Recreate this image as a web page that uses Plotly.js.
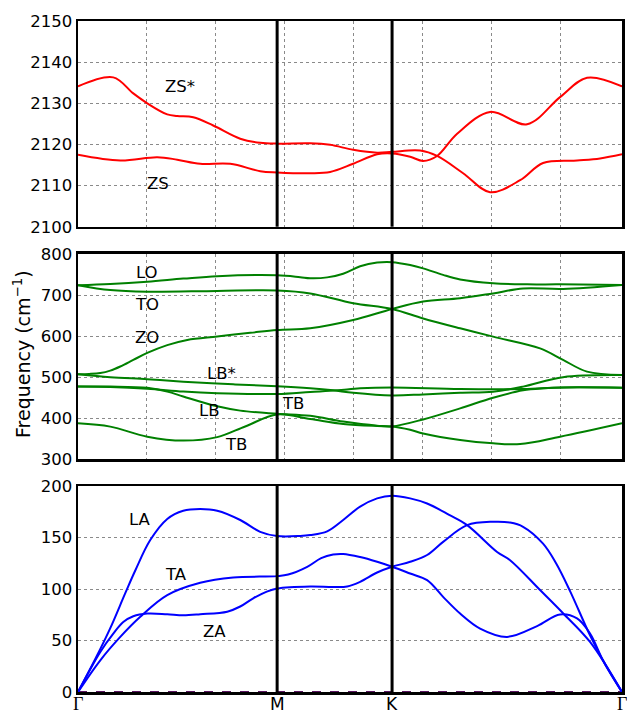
<!DOCTYPE html>
<html><head><meta charset="utf-8">
<script src="https://cdn.plot.ly/plotly-3.0.1.min.js"></script>
<style>html,body{margin:0;padding:0;background:#fff}</style>
</head><body><div id="chart" style="width:627px;height:711px"></div>
<script>
// High-symmetry points along the path (path length units) and their labels
const kPos = [0, 0.5774, 0.9107, 1.5774];
const kLabels = ['Γ', 'M', 'K', 'Γ'];

// Top panel (red): ZS*, ZS
const zsStarK = [0, 0.1023, 0.1603, 0.2008, 0.2588, 0.2878, 0.3342, 0.3921, 0.4704, 0.5283, 0.5774, 0.6733, 0.7312, 0.7979, 0.8674, 0.9107, 0.9920, 1.0413, 1.1167, 1.1949, 1.2819, 1.3485, 1.4470, 1.5137, 1.5774];
const zsStarW = [2134.1, 2136.3, 2132.4, 2130.0, 2127.3, 2126.9, 2126.6, 2124.6, 2121.4, 2120.4, 2120.2, 2120.3, 2119.9, 2118.7, 2118.0, 2118.2, 2118.5, 2117.2, 2113.0, 2108.4, 2111.3, 2115.5, 2116.1, 2116.6, 2117.6];
const zsK = [0, 0.1226, 0.2298, 0.2878, 0.3544, 0.4414, 0.5283, 0.5774, 0.6733, 0.7312, 0.7979, 0.8674, 0.9107, 0.9631, 1.0007, 1.0413, 1.0993, 1.1949, 1.3022, 1.3978, 1.4760, 1.5774];
const zsW = [2117.5, 2116.1, 2116.9, 2116.3, 2115.3, 2115.3, 2113.5, 2113.2, 2113.0, 2113.3, 2115.3, 2117.6, 2117.8, 2117.0, 2116.0, 2117.2, 2122.6, 2127.9, 2124.9, 2131.5, 2136.2, 2134.1];

// Middle panel (green)
const loK = [0, 0.0936, 0.2008, 0.3052, 0.4037, 0.5774, 0.6443, 0.6733, 0.7225, 0.7689, 0.8181, 0.8674, 0.9107, 0.9631, 1.0007, 1.0587, 1.1080, 1.2036, 1.3022, 1.3978, 1.5774];
const loW = [724, 727, 732.6, 740, 746, 748, 743.5, 741, 743, 752, 770, 779, 780, 773, 765, 749, 738, 728.6, 726, 726, 724.5];
const toK = [0, 0.0936, 0.2008, 0.4037, 0.5774, 0.6733, 0.7979, 0.9107, 1.0007, 1.1080, 1.2036, 1.3398, 1.4065, 1.4760, 1.5774];
const toW = [724, 712, 708, 710, 711, 704, 680, 666, 643, 619, 598.7, 570, 542, 513.5, 505];
const zoK = [0, 0.0325, 0.0646, 0.0936, 0.1226, 0.1603, 0.2008, 0.2588, 0.3168, 0.4037, 0.4994, 0.5774, 0.6733, 0.7979, 0.9107, 1.0007, 1.1080, 1.2036, 1.2906, 1.4065, 1.5774];
const zoW = [507, 507.8, 510, 516, 526, 542, 559, 578, 590.6, 599, 608, 615, 619, 639, 666, 684, 692, 704, 716, 715, 724.5];
const lbStarK = [0, 0.0936, 0.2008, 0.3052, 0.4501, 0.5774, 0.6733, 0.7399, 0.7979, 0.9107, 1.0007, 1.1080, 1.2036, 1.2906, 1.4065, 1.5774];
const lbStarW = [507, 500, 495, 489, 482.6, 478, 473, 468, 462, 455.5, 458, 462, 464.7, 477, 500, 505];
const b5K = [0, 0.0936, 0.2008, 0.3052, 0.4037, 0.5774, 0.6733, 0.7515, 0.8181, 0.9107, 1.1080, 1.2906, 1.4065, 1.5774];
const b5W = [477, 476, 472, 465, 461, 459, 464, 468, 473, 475, 471, 471, 475, 474.5];
const lbK = [0, 0.0936, 0.2008, 0.2588, 0.3052, 0.4037, 0.4704, 0.5774, 0.6733, 0.7689, 0.8674, 0.9107, 1.0007, 1.1080, 1.2036, 1.2906, 1.3485, 1.4065, 1.5774];
const lbW = [477, 477, 474, 465, 453, 429, 418.5, 411, 406, 392, 382, 380, 397, 424, 450, 468, 473, 475, 474.5];
const tbK = [0, 0.0936, 0.2008, 0.3052, 0.4037, 0.4848, 0.5774, 0.6733, 0.7689, 0.8674, 0.9107, 0.9631, 1.0007, 1.1080, 1.2036, 1.2819, 1.3978, 1.5774];
const tbW = [387.7, 379.6, 355, 345.5, 354, 380, 409, 398, 386, 381, 380, 372, 363, 347, 339, 337, 355, 387.7];

// Bottom panel (blue)
const laK = [0, 0.0501, 0.0936, 0.1371, 0.1661, 0.2095, 0.2588, 0.3052, 0.3544, 0.4037, 0.4704, 0.5283, 0.5774, 0.6443, 0.6733, 0.7225, 0.7689, 0.8181, 0.8674, 0.9107, 0.9631, 1.0123, 1.0761, 1.1283, 1.2152, 1.2529, 1.3398, 1.4065, 1.4847, 1.5774];
const laW = [0, 32, 62, 96, 118, 147.5, 168, 176, 177.6, 176, 167, 155.5, 151.4, 151.5, 152.4, 156, 167, 180, 188, 190.6, 188, 183, 172, 162, 136, 128, 99, 76.5, 48.6, 0];
const taK = [0, 0.0646, 0.1226, 0.1806, 0.2588, 0.3544, 0.4501, 0.5774, 0.6095, 0.6646, 0.7051, 0.7399, 0.7689, 0.8181, 0.8674, 0.9107, 0.9631, 1.0123, 1.0587, 1.1080, 1.1659, 1.2442, 1.3312, 1.3978, 1.4470, 1.4847, 1.5224, 1.5774];
const taW = [0, 30.8, 53.5, 73, 94, 106, 111.2, 112.5, 114, 121.5, 130, 133.5, 134, 131, 126.4, 121.6, 115, 108.6, 92.4, 76.2, 61.6, 53.5, 64, 75.3, 71.4, 56.8, 30.8, 0];
const zaK = [0, 0.0646, 0.1023, 0.1313, 0.1603, 0.2008, 0.2588, 0.3052, 0.3544, 0.4327, 0.4704, 0.5081, 0.5474, 0.5774, 0.6733, 0.7399, 0.7805, 0.8181, 0.8674, 0.9107, 0.9631, 1.0123, 1.0587, 1.1283, 1.2036, 1.2529, 1.2906, 1.3485, 1.3862, 1.4268, 1.4847, 1.5282, 1.5774];
const zaW = [0, 38.9, 56.7, 68, 73.6, 76.2, 75.5, 74.5, 75.5, 78, 83, 91, 97.5, 100.5, 102.5, 102, 102.5, 107, 116, 121.6, 126.4, 133, 145.8, 162, 165.3, 164.5, 160.4, 144, 125, 98, 55, 27, 0];

const FONT = 'DejaVu Sans, Verdana, sans-serif';
const RED = '#ff0000', GREEN = '#008000', BLUE = '#0000ff';

function band(k, w, color, xa, ya) {
  return {x: k, y: w, xaxis: xa, yaxis: ya, type: 'scatter', mode: 'lines',
    line: {color: color, width: 2, shape: 'spline', smoothing: 1}, hoverinfo: 'skip', showlegend: false};
}

const traces = [
  {x: [kPos[0], kPos[3]], y: [0, 0], xaxis: 'x', yaxis: 'y', type: 'scatter', mode: 'lines',
   line: {color: '#5a1560', width: 2, dash: 'dash'}, hoverinfo: 'skip', showlegend: false},
  band(laK, laW, BLUE, 'x', 'y'),
  band(taK, taW, BLUE, 'x', 'y'),
  band(zaK, zaW, BLUE, 'x', 'y'),
  band(loK, loW, GREEN, 'x2', 'y2'),
  band(toK, toW, GREEN, 'x2', 'y2'),
  band(zoK, zoW, GREEN, 'x2', 'y2'),
  band(lbStarK, lbStarW, GREEN, 'x2', 'y2'),
  band(b5K, b5W, GREEN, 'x2', 'y2'),
  band(lbK, lbW, GREEN, 'x2', 'y2'),
  band(tbK, tbW, GREEN, 'x2', 'y2'),
  band(zsStarK, zsStarW, RED, 'x3', 'y3'),
  band(zsK, zsW, RED, 'x3', 'y3')
];

const tickFont = {family: FONT, size: 16.5, color: '#000'};
const frame = {showline: true, mirror: true, linecolor: '#000', linewidth: 2.5, zeroline: false};
const grid = {showgrid: true, gridcolor: '#8a8a8a', griddash: 'dot', gridwidth: 1};
const xRange = [kPos[0], kPos[3]];

const layout = {
  width: 627, height: 711,
  margin: {l: 78, r: 5, t: 21, b: 19},
  paper_bgcolor: '#fff', plot_bgcolor: '#fff',
  showlegend: false,
  xaxis: Object.assign({}, frame, {anchor: 'y', range: xRange, showgrid: false, showticklabels: false, ticks: ''}),
  xaxis2: Object.assign({}, frame, grid, {anchor: 'y2', matches: 'x', range: xRange, dtick: 0.2, tick0: 0, showticklabels: false, ticks: ''}),
  xaxis3: Object.assign({}, frame, grid, {anchor: 'y3', matches: 'x', range: xRange, dtick: 0.2, tick0: 0, showticklabels: false, ticks: ''}),
  yaxis: Object.assign({}, frame, grid, {domain: [0, 0.307], range: [0, 200], dtick: 50, tick0: 0, ticks: '', tickfont: tickFont}),
  yaxis2: Object.assign({}, frame, grid, {domain: [0.3468, 0.6528], range: [300, 800], dtick: 100, tick0: 300, ticks: '', tickfont: tickFont}),
  yaxis3: Object.assign({}, frame, grid, {domain: [0.6934, 1], range: [2100, 2150], dtick: 10, tick0: 2100, ticks: '', tickfont: tickFont}),
  shapes: [],
  annotations: []
};

['y', 'y2', 'y3'].forEach(ya => {
  [kPos[1], kPos[2]].forEach(k => {
    layout.shapes.push({type: 'line', xref: 'x', yref: ya + ' domain', x0: k, x1: k, y0: 0, y1: 1,
      line: {color: '#000', width: 3}, layer: 'above'});
  });
});

// high-symmetry point labels under the bottom panel
kPos.forEach((k, i) => {
  const serif = kLabels[i] === 'Γ';
  layout.annotations.push({text: kLabels[i], x: k, xref: 'x', y: -0.0185, yref: 'paper',
    showarrow: false, xanchor: 'center', yanchor: 'middle', borderpad: 0,
    font: {family: serif ? 'Liberation Serif, DejaVu Serif, serif' : FONT, size: serif ? 18 : 17, color: '#000'}});
});

function lab(text, x, y, ya) {
  layout.annotations.push({text: text, x: x, y: y, xref: 'x', yref: ya, showarrow: false,
    font: {family: FONT, size: 16.5, color: '#000'}, xanchor: 'center', yanchor: 'middle'});
}
lab('ZS*', 0.2965, 2134.2, 'y3');
lab('ZS', 0.2327, 2110.6, 'y3');
lab('LO', 0.2008, 753.7, 'y2');
lab('TO', 0.2008, 675.8, 'y2');
lab('ZO', 0.2008, 595.5, 'y2');
lab('LB*', 0.4159, 510, 'y2');
lab('LB', 0.3811, 417.7, 'y2');
lab('TB', 0.6240, 437, 'y2');
lab('TB', 0.4588, 335, 'y2');
lab('LA', 0.1806, 167, 'y');
lab('TA', 0.2849, 114.4, 'y');
lab('ZA', 0.3956, 59, 'y');

layout.annotations.push({text: 'Frequency (cm<sup>−1</sup>)', xref: 'paper', yref: 'paper',
  x: -0.103, y: 0.5037, textangle: -90, showarrow: false, xanchor: 'center', yanchor: 'middle',
  font: {family: FONT, size: 19, color: '#000'}});

Plotly.newPlot('chart', traces, layout, {staticPlot: true, displayModeBar: false});
</script>
</body></html>
